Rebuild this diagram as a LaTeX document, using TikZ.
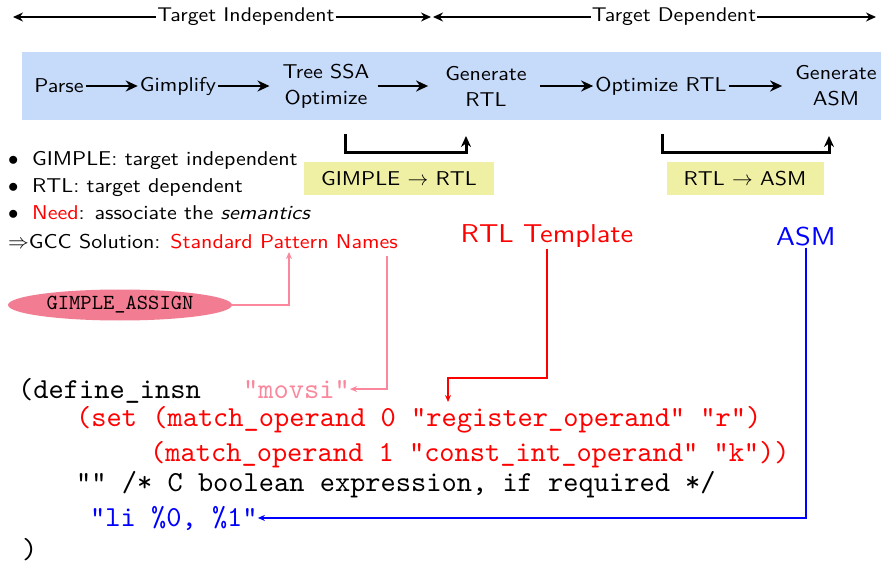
\documentclass[tikz,border=0pt]{standalone}
\usepackage{fontspec}
\usetikzlibrary{arrows.meta,shapes.geometric}
\newfontfamily\lmsf[FakeStretch=1.1,ItalicFont=lmsans10-oblique.otf]{lmsans10-regular.otf}
\newfontfamily\lmtt{lmmono10-regular.otf}
\definecolor{bandblue}{RGB}{198,218,250}
\definecolor{boxyellow}{RGB}{240,240,165}
\definecolor{pinkfill}{RGB}{242,124,146}
\definecolor{pinkline}{RGB}{250,135,155}
\begin{document}
\begin{tikzpicture}[x=1pt,y=-1pt,
  toplbl/.style={font=\fontsize{19.8}{24}\selectfont\lmsf, inner sep=1pt},
  topar/.style={line width=1.4pt,-{Stealth[length=10pt,width=9pt]}},
  stage/.style={font=\fontsize{20}{26}\selectfont\lmsf, inner sep=2pt, align=center},
  flow/.style={line width=2.8pt,-{Stealth[length=12pt,width=11pt]}},
  brk/.style={line width=3pt,-{Stealth[length=11pt,width=10pt]}},
  ybox/.style={fill=boxyellow, font=\fontsize{20}{25}\selectfont\lmsf, minimum height=33pt, inner sep=0pt},
  body/.style={font=\fontsize{20}{25}\selectfont\lmsf, inner sep=0pt, anchor=base west},
  big/.style={font=\fontsize{25.8}{30}\selectfont\lmsf, inner sep=1pt},
  code/.style={font=\fontsize{29}{33}\selectfont\lmtt, inner sep=0pt, anchor=base west},
  conn/.style={line width=1.8pt,-{Stealth[length=7pt,width=6pt]}}
]
\useasboundingbox (0,0) rectangle (881,564);

% top range arrows
\node[toplbl] (ti) at (246,17) {Target Independent};
\node[toplbl] (td) at (674,17) {Target Dependent};
\coordinate (tiL) at (13,17);
\coordinate (tiR) at (431,17);
\coordinate (tdL) at (433,17);
\coordinate (tdR) at (876,17);
\draw[topar] (ti.west) -- (tiL);
\draw[topar] (ti.east) -- (tiR);
\draw[topar] (td.west) -- (tdL);
\draw[topar] (td.east) -- (tdR);

% band
\fill[bandblue] (22,52) rectangle (881,120);
\node[stage] (parse) at (59,86) {Parse};
\node[stage] (gimp) at (178,86) {Gimplify};
\node[stage] (tree) at (326,86) {Tree SSA\\Optimize};
\node[stage] (grtl) at (486,86) {Generate\\RTL};
\node[stage] (ortl) at (661,86) {Optimize RTL};
\node[stage] (gasm) at (836,86) {Generate\\ASM};
\draw[flow] (parse) -- (gimp);
\draw[flow,shorten >=11pt] (gimp) -- (tree);
\draw[flow,shorten <=6pt,shorten >=15pt] (tree) -- (grtl);
\draw[flow,shorten <=11pt] (grtl) -- (ortl);
\draw[flow,shorten >=11pt] (ortl) -- (gasm);

% brackets
\coordinate (b1a) at (345,134);
\coordinate (b1b) at (466,136);
\coordinate (b2a) at (662,134);
\coordinate (b2b) at (829,136);
\draw[brk] (b1a) -- (345,153) -- (466,153) -- (b1b);
\draw[brk] (b2a) -- (662,153) -- (829,153) -- (b2b);
\node[ybox, minimum width=190pt] (g2r) at (399,179) {GIMPLE $\rightarrow$ RTL};
\node[ybox, minimum width=157pt] (r2a) at (745,179) {RTL $\rightarrow$ ASM};

% bullets
\node[body] (bu1) at (8,166) {$\bullet$};
\node[body] (bu2) at (8,193) {$\bullet$};
\node[body] (bu3) at (8,220) {$\bullet$};
\node[body] (l1) at (32,166) {GIMPLE: target independent};
\node[body] (l2) at (32,193) {RTL: target dependent};
\node[body] (l3) at (32,220) {\textcolor{red}{Need}: associate the \textit{semantics}};
\node[body] (l4) at (8,248) {$\Rightarrow$GCC Solution: \textcolor{red}{Standard Pattern Names}};

\node[big, text=red] (rtlt) at (547,236) {RTL Template};
\node[big, text=blue] (asm) at (806,237) {ASM};

\node[ellipse, fill=pinkfill, minimum width=224pt, minimum height=31pt, inner sep=0pt,
      font=\fontsize{21.5}{25}\selectfont\lmtt] (ga) at (120,305) {GIMPLE\_ASSIGN};

% code
\node[code] (c1) at (18,398) {(define\_insn};
\node[code, text=pinkline] (movsi) at (243,398) {"movsi"};
\node[code, text=red] (c2) at (76,426) {(set (match\_operand 0 "register\_operand" "r")};
\node[code, text=red] (c3) at (150,461) {(match\_operand 1 "const\_int\_operand" "k"))};
\node[code] (c4) at (76,491) {"" /* C boolean expression, if required */};
\node[code, text=blue] (li) at (90,526) {"li \%0, \%1"};
\node[code] (c6) at (22,558) {)};

% connectors
\coordinate (pat) at (289,252);
\coordinate (nms) at (387,256);
\coordinate (r1) at (448,378);
\coordinate (r2) at (448,402);
\draw[conn, pinkline] (ga.east) -| (pat);
\draw[conn, pinkline] (nms) |- (movsi.east);
\draw[conn, red] (rtlt.south) |- (r1) -- (r2);
\draw[conn, blue] (asm.south) |- (li.east);
\end{tikzpicture}
\end{document}
